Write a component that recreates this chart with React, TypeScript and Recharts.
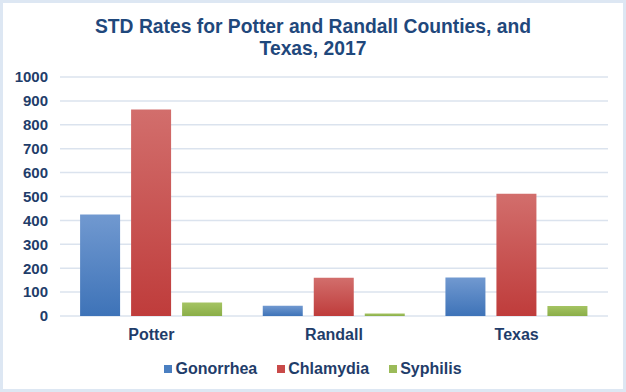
import React from 'react';
import { BarChart, Bar, XAxis, YAxis, CartesianGrid, Legend } from 'recharts';

const categories = ['Potter', 'Randall', 'Texas'];
const gonorrhea = [425, 43, 161];
const chlamydia = [864, 160, 512];
const syphilis = [57, 10, 42];
const yTicks = [0, 100, 200, 300, 400, 500, 600, 700, 800, 900, 1000];
const seriesNames = ['Gonorrhea', 'Chlamydia', 'Syphilis'];
const seriesColors = ['#4a7fc1', '#c94a49', '#9bbb59'];

const data = categories.map((c, i) => ({
  name: c,
  Gonorrhea: gonorrhea[i],
  Chlamydia: chlamydia[i],
  Syphilis: syphilis[i],
}));

const TEXT = '#1f3d6a';
const FONT = '"Liberation Sans", Arial, sans-serif';

const LegendContent = () => (
  <div style={{ display: 'flex', justifyContent: 'center', alignItems: 'center', gap: 20, fontFamily: FONT, paddingLeft: 8 }}>
    {seriesNames.map((n, i) => (
      <div key={n} style={{ display: 'flex', alignItems: 'center' }}>
        <span style={{ display: 'inline-block', width: 8, height: 8, background: seriesColors[i], marginRight: 3 }} />
        <span style={{ color: TEXT, fontWeight: 'bold', fontSize: 16 }}>{n}</span>
      </div>
    ))}
  </div>
);

export default function App() {
  return (
    <div
      style={{
        position: 'fixed',
        left: 0,
        top: 0,
        width: 626,
        height: 392,
        boxSizing: 'border-box',
        border: '3px solid #dde7f3',
        background: '#ffffff',
        fontFamily: FONT,
      }}
    >
      <div
        style={{
          position: 'absolute',
          left: -3,
          top: 13,
          width: 626,
          textAlign: 'center',
          color: '#1f487c',
          fontWeight: 'bold',
          fontSize: 19.3,
          lineHeight: '22px',
        }}
      >
        STD Rates for Potter and Randall Counties, and
        <br />
        Texas, 2017
      </div>
      <div style={{ position: 'absolute', left: -3, top: -3 }}>
        <BarChart
          width={626}
          height={392}
          data={data}
          margin={{ top: 77, right: 18, bottom: 28, left: 10 }}
          barCategoryGap="11%"
          barGap={11}
        >
          <defs>
            <linearGradient id="gBlue" x1="0" y1="0" x2="0" y2="1">
              <stop offset="0%" stopColor="#7199d0" />
              <stop offset="100%" stopColor="#3e73b8" />
            </linearGradient>
            <linearGradient id="gRed" x1="0" y1="0" x2="0" y2="1">
              <stop offset="0%" stopColor="#d26e6c" />
              <stop offset="100%" stopColor="#bf3c3b" />
            </linearGradient>
            <linearGradient id="gGreen" x1="0" y1="0" x2="0" y2="1">
              <stop offset="0%" stopColor="#a5c463" />
              <stop offset="100%" stopColor="#8aae48" />
            </linearGradient>
          </defs>
          <CartesianGrid vertical={false} stroke="#dbe3ee" strokeWidth={1.5} />
          <XAxis
            dataKey="name"
            axisLine={false}
            tickLine={false}
            tick={{ fill: TEXT, fontSize: 16, fontWeight: 'bold', fontFamily: FONT }}
            dy={5}
          />
          <YAxis
            width={50}
            domain={[0, 1000]}
            ticks={yTicks}
            interval={0}
            axisLine={false}
            tickLine={false}
            tick={{ fill: TEXT, fontSize: 15, fontWeight: 'bold', fontFamily: FONT }}
            dx={-4}
          />
          <Legend verticalAlign="bottom" align="center" wrapperStyle={{ bottom: 14 }} content={LegendContent} />
          <Bar dataKey="Gonorrhea" fill="url(#gBlue)" isAnimationActive={false} />
          <Bar dataKey="Chlamydia" fill="url(#gRed)" isAnimationActive={false} />
          <Bar dataKey="Syphilis" fill="url(#gGreen)" isAnimationActive={false} />
        </BarChart>
      </div>
    </div>
  );
}
